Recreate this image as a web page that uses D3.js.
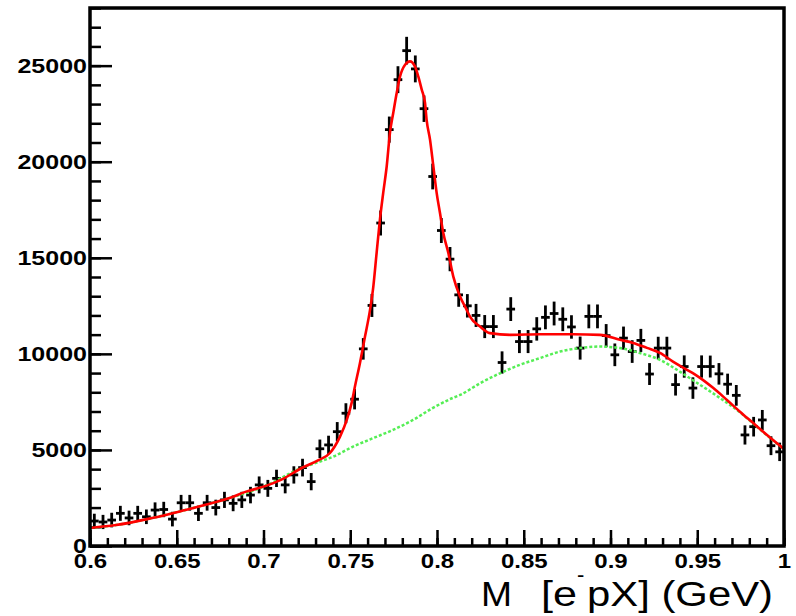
<!DOCTYPE html>
<html>
<head>
<meta charset="utf-8">
<style>
  body { margin: 0; background: #fff; }
  svg { display: block; }
  text { font-family: "Liberation Sans", Arial, Helvetica, sans-serif; fill: #000; }
</style>
</head>
<body>
<svg width="796" height="616"></svg>
<script src="https://cdn.jsdelivr.net/npm/d3@7"></script>
<script>
// bin centres (GeV), 80 bins of 0.005
const massCenters = [
  0.6025, 0.6075, 0.6125, 0.6175, 0.6225, 0.6275, 0.6325, 0.6375, 0.6425, 0.6475,
  0.6525, 0.6575, 0.6625, 0.6675, 0.6725, 0.6775, 0.6825, 0.6875, 0.6925, 0.6975,
  0.7025, 0.7075, 0.7125, 0.7175, 0.7225, 0.7275, 0.7325, 0.7375, 0.7425, 0.7475,
  0.7525, 0.7575, 0.7625, 0.7675, 0.7725, 0.7775, 0.7825, 0.7875, 0.7925, 0.7975,
  0.8025, 0.8075, 0.8125, 0.8175, 0.8225, 0.8275, 0.8325, 0.8375, 0.8425, 0.8475,
  0.8525, 0.8575, 0.8625, 0.8675, 0.8725, 0.8775, 0.8825, 0.8875, 0.8925, 0.8975,
  0.9025, 0.9075, 0.9125, 0.9175, 0.9225, 0.9275, 0.9325, 0.9375, 0.9425, 0.9475,
  0.9525, 0.9575, 0.9625, 0.9675, 0.9725, 0.9775, 0.9825, 0.9875, 0.9925, 0.9975
];
const binHalfWidth = 0.0025;

const counts = [
  1300, 1250, 1350, 1700, 1460, 1700, 1520, 1870, 1900, 1400,
  2250, 2250, 1700, 2250, 2000, 2400, 2220, 2400, 2650, 3180,
  3000, 3520, 3180, 3700, 4080, 3350, 5060, 5260, 5950, 6910,
  7640, 10260, 12520, 16810, 21670, 24270, 25780, 24830, 22760, 19230,
  16420, 14930, 13070, 12500, 12000, 11420, 11420, 9550, 12330, 10640,
  10640, 11300, 11900, 12100, 11800, 11400, 10300, 11950, 11950, 10950,
  9950, 10820, 10120, 10700, 8950, 10300, 10300, 8400, 9340, 8220,
  9340, 9340, 8960, 8420, 7840, 5780, 6210, 6560, 5220, 4900
];

const countErrors = [
  380, 370, 380, 390, 380, 390, 380, 400, 400, 380,
  410, 410, 400, 410, 410, 420, 410, 420, 430, 440,
  440, 450, 440, 450, 460, 450, 480, 480, 500, 520,
  530, 560, 600, 650, 680, 700, 720, 700, 690, 670,
  650, 630, 620, 610, 600, 600, 600, 580, 620, 600,
  600, 610, 620, 620, 620, 610, 600, 620, 620, 600,
  590, 600, 590, 600, 570, 590, 590, 570, 580, 560,
  580, 570, 560, 550, 540, 500, 510, 520, 490, 480
];

// total fit (red)
const fitMass = [
  0.600, 0.615, 0.635, 0.655, 0.670, 0.680, 0.690, 0.700, 0.710, 0.722,
  0.732, 0.7383, 0.7441, 0.7480, 0.7508, 0.7527, 0.7556, 0.7585, 0.7614, 0.7633,
  0.7652, 0.7671, 0.7690, 0.7710, 0.7729, 0.7748, 0.7768, 0.7787, 0.7816, 0.7844,
  0.7873, 0.7892, 0.7912, 0.7931, 0.7940, 0.7960, 0.7979, 0.7998, 0.8017, 0.8036,
  0.8065, 0.8094, 0.8133, 0.8171, 0.8190, 0.8248, 0.8305, 0.8421, 0.8594, 0.8784,
  0.8939, 0.9055, 0.9130, 0.9210, 0.9285, 0.9360, 0.9441, 0.9516, 0.9591, 0.9671,
  0.9746, 0.9821, 0.9902, 1.000
];
const fitValue = [
  940, 1090, 1440, 1875, 2220, 2480, 2830, 3090, 3440, 4060,
  4480, 4840, 5690, 6560, 7450, 8300, 9530, 10900, 12290, 13500,
  15260, 16980, 18380, 19750, 21510, 22550, 23590, 24440, 25050, 25220,
  24960, 24440, 23750, 23060, 22190, 21140, 19750, 18380, 17340, 16300,
  15260, 14020, 12980, 12290, 11940, 11420, 11080, 10990, 11020, 11020,
  10990, 10730, 10570, 10310, 10050, 9600, 9170, 8750, 8230, 7600,
  6990, 6410, 5780, 5050
];

// background (green, dotted)
const bkgMass = [
  0.600, 0.615, 0.635, 0.655, 0.680, 0.700, 0.722, 0.7326, 0.7401, 0.7516,
  0.7631, 0.7746, 0.7862, 0.7977, 0.8092, 0.8133, 0.8248, 0.8363, 0.8478, 0.8594,
  0.8709, 0.8824, 0.8939, 0.9055, 0.9170, 0.9285, 0.9383, 0.9487, 0.9631, 0.9746,
  0.9821, 0.9902, 1.000
];
const bkgValue = [
  940, 1090, 1440, 1875, 2480, 3090, 4060, 4400, 4650, 5170,
  5610, 6040, 6560, 7190, 7710, 7860, 8470, 8990, 9430, 9780,
  10120, 10300, 10380, 10300, 10040, 9690, 9170, 8560, 7700, 6960,
  6380, 5760, 5040
];

const xTickValues = [0.6, 0.65, 0.7, 0.75, 0.8, 0.85, 0.9, 0.95, 1.0];
const xTickLabels = ["0.6", "0.65", "0.7", "0.75", "0.8", "0.85", "0.9", "0.95", "1"];
const yTickValues = [0, 5000, 10000, 15000, 20000, 25000];
const yTickLabels = ["0", "5000", "10000", "15000", "20000", "25000"];

const svg = d3.select("svg"),
  width = +svg.attr("width"),
  height = +svg.attr("height");

const frame = { left: 90, right: 784, top: 8, bottom: 546 };

const x = d3.scaleLinear()
  .domain([0.6, 1.0])
  .range([frame.left, frame.right]);

const y = d3.scaleLinear()
  .domain([0, 28000])
  .range([frame.bottom, frame.top]);

svg.append("defs").append("clipPath")
  .attr("id", "frame-clip")
  .append("rect")
  .attr("x", frame.left).attr("y", frame.top)
  .attr("width", frame.right - frame.left).attr("height", frame.bottom - frame.top);

// stretch a label horizontally, the reference text is wide
function widen(sel, k) {
  sel.each(function () {
    const w = this.getComputedTextLength();
    d3.select(this)
      .attr("textLength", w * k)
      .attr("lengthAdjust", "spacingAndGlyphs");
  });
}

// minor ticks
svg.append("g")
  .attr("class", "x minor")
  .attr("transform", "translate(0," + frame.bottom + ")")
  .call(d3.axisBottom(x).ticks(40).tickSize(-8).tickFormat(""))
  .call(g => g.select(".domain").remove())
  .call(g => g.selectAll("line").attr("stroke-width", 2.5));

svg.append("g")
  .attr("class", "y minor")
  .attr("transform", "translate(" + frame.left + ",0)")
  .call(d3.axisLeft(y).ticks(28).tickSize(-11).tickFormat(""))
  .call(g => g.select(".domain").remove())
  .call(g => g.selectAll("line").attr("stroke-width", 2.5));

// major ticks + labels
const xAxis = svg.append("g")
  .attr("class", "x axis")
  .attr("transform", "translate(0," + frame.bottom + ")")
  .call(d3.axisBottom(x)
    .tickValues(xTickValues)
    .tickSize(-16)
    .tickPadding(8)
    .tickFormat((d, i) => xTickLabels[i]))
  .call(g => g.select(".domain").remove())
  .call(g => g.selectAll("line").attr("stroke-width", 2.5));

xAxis.selectAll("text")
  .attr("font-size", 20)
  .attr("font-weight", "bold")
  .attr("font-family", "Liberation Sans, Arial, sans-serif")
  .call(widen, 1.2);

const yAxis = svg.append("g")
  .attr("class", "y axis")
  .attr("transform", "translate(" + frame.left + ",0)")
  .call(d3.axisLeft(y)
    .tickValues(yTickValues)
    .tickSize(-22)
    .tickPadding(3)
    .tickFormat((d, i) => yTickLabels[i]))
  .call(g => g.select(".domain").remove())
  .call(g => g.selectAll("line").attr("stroke-width", 2.5));

yAxis.selectAll("text")
  .attr("font-size", 20)
  .attr("font-weight", "bold")
  .attr("font-family", "Liberation Sans, Arial, sans-serif")
  .call(widen, 1.25);

// data points with error bars
const points = svg.append("g")
  .attr("class", "points")
  .attr("clip-path", "url(#frame-clip)")
  .attr("stroke", "#000")
  .attr("stroke-width", 2.8)
  .selectAll("g")
  .data(massCenters.map((m, i) => ({ m: m, v: counts[i], e: countErrors[i] })))
  .enter().append("g");

points.append("line")
  .attr("x1", d => x(d.m)).attr("x2", d => x(d.m))
  .attr("y1", d => y(d.v - d.e)).attr("y2", d => y(d.v + d.e));

points.append("line")
  .attr("x1", d => x(d.m - binHalfWidth)).attr("x2", d => x(d.m + binHalfWidth))
  .attr("y1", d => y(d.v)).attr("y2", d => y(d.v));

const line = d3.line()
  .x(d => x(d[0]))
  .y(d => y(d[1]))
  .curve(d3.curveMonotoneX);

svg.append("path")
  .datum(bkgMass.map((m, i) => [m, bkgValue[i]]))
  .attr("class", "background")
  .attr("clip-path", "url(#frame-clip)")
  .attr("fill", "none")
  .attr("stroke", "#55ee55")
  .attr("stroke-width", 2.5)
  .attr("stroke-dasharray", "3,2")
  .attr("d", line);

svg.append("path")
  .datum(fitMass.map((m, i) => [m, fitValue[i]]))
  .attr("class", "fit")
  .attr("clip-path", "url(#frame-clip)")
  .attr("fill", "none")
  .attr("stroke", "#ff0000")
  .attr("stroke-width", 2.6)
  .attr("d", line);

// frame
svg.append("rect")
  .attr("x", frame.left).attr("y", frame.top)
  .attr("width", frame.right - frame.left).attr("height", frame.bottom - frame.top)
  .attr("fill", "none")
  .attr("stroke", "#000")
  .attr("stroke-width", 3.5);

// axis title: M  [e^- pX] (GeV)
const title = svg.append("g").attr("class", "title").attr("font-size", 35);
title.append("text").attr("x", 481).attr("y", 606).attr("textLength", 31)
  .attr("lengthAdjust", "spacingAndGlyphs").text("M");
title.append("text").attr("x", 541).attr("y", 606).attr("textLength", 36)
  .attr("lengthAdjust", "spacingAndGlyphs").text("[e");
title.append("text").attr("x", 577).attr("y", 582).attr("font-size", 22)
  .text("-");
title.append("text").attr("x", 587).attr("y", 606).attr("textLength", 186)
  .attr("lengthAdjust", "spacingAndGlyphs").text("pX] (GeV)");
</script>
</body>
</html>
